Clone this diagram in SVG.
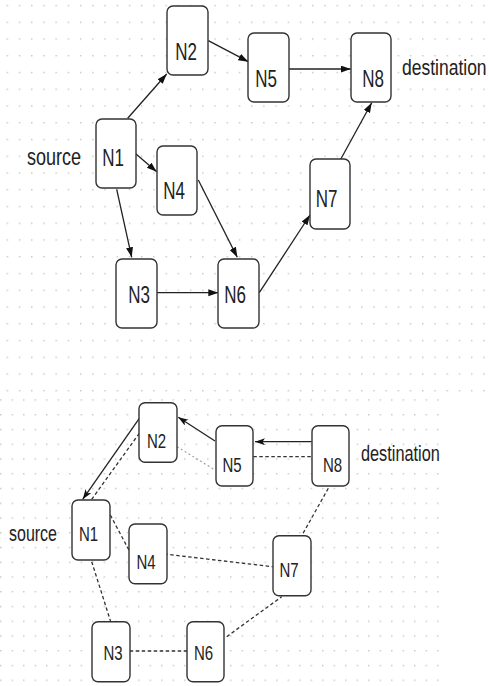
<svg xmlns="http://www.w3.org/2000/svg" width="489" height="686" viewBox="0 0 489 686">
<defs>
<pattern id="gridTop" patternUnits="userSpaceOnUse" x="6.6" y="4.8" width="12.22" height="16.75">
<rect x="0" y="0" width="1.4" height="1.4" fill="#c4c4c4"/>
</pattern>
<pattern id="gridBot" patternUnits="userSpaceOnUse" x="0.1" y="399.3" width="11.5" height="14.75">
<rect x="0" y="0" width="1.4" height="1.4" fill="#c4c4c4"/>
</pattern>
<marker id="arrTop" markerUnits="userSpaceOnUse" markerWidth="11" markerHeight="8" refX="10" refY="3.5" orient="auto">
<path d="M0,0 L10,3.5 L0,7 z" fill="#111"/>
</marker>
<marker id="arrBot" markerUnits="userSpaceOnUse" markerWidth="11" markerHeight="8" refX="10" refY="3.5" orient="auto">
<path d="M0,0 L10,3.5 L0,7 L2.5,3.5 z" fill="#111"/>
</marker>
</defs>
<style>
.node rect{fill:#fff;stroke:#333;stroke-width:1.4}
.lbl{font-family:"Liberation Sans",Arial,sans-serif;fill:#222;text-anchor:middle}
.side{font-family:"Liberation Sans",Arial,sans-serif;fill:#222}
.solid{stroke:#222;stroke-width:1.3;fill:none}
.dash{stroke:#333;stroke-width:1.3;stroke-dasharray:3.5 2.5;fill:none}
.dot{stroke:#999;stroke-width:1.1;stroke-dasharray:2 2.5;fill:none}
</style>
<rect x="0" y="0" width="489" height="686" fill="#fff"/>
<rect x="0" y="0" width="489" height="394" fill="url(#gridTop)"/>
<rect x="0" y="398" width="439" height="286" fill="url(#gridBot)"/>

<!-- top diagram connectors -->
<g id="connectors-top">
<line class="solid" x1="127.7" y1="118.3" x2="166.7" y2="74" marker-end="url(#arrTop)"/>
<line class="solid" x1="208.3" y1="40.7" x2="248.3" y2="61.7" marker-end="url(#arrTop)"/>
<line class="solid" x1="288.7" y1="69" x2="350.7" y2="69" marker-end="url(#arrTop)"/>
<line class="solid" x1="136" y1="154" x2="156.7" y2="171.7" marker-end="url(#arrTop)"/>
<line class="solid" x1="116.7" y1="189.3" x2="131.7" y2="257.3" marker-end="url(#arrTop)"/>
<line class="solid" x1="198.3" y1="180" x2="237.3" y2="257.3" marker-end="url(#arrTop)"/>
<line class="solid" x1="157" y1="292.7" x2="218.3" y2="292.7" marker-end="url(#arrTop)"/>
<line class="solid" x1="259.3" y1="292.7" x2="310" y2="215" marker-end="url(#arrTop)"/>
<line class="solid" x1="340.7" y1="159.3" x2="371.7" y2="102.7" marker-end="url(#arrTop)"/>
</g>

<!-- top diagram nodes -->
<g id="t-N2" class="node"><rect x="167" y="6" width="41" height="69" rx="6"/><text class="lbl" font-size="17" transform="translate(186,60) scale(1,1.45)">N2</text></g>
<g id="t-N5" class="node"><rect x="248" y="33" width="41" height="69" rx="6"/><text class="lbl" font-size="17" transform="translate(266,86.7) scale(1,1.45)">N5</text></g>
<g id="t-N8" class="node"><rect x="351" y="33" width="40" height="69" rx="6"/><text class="lbl" font-size="17" transform="translate(373,86.7) scale(1,1.45)">N8</text></g>
<g id="t-N1" class="node"><rect x="96" y="119" width="40" height="69" rx="6"/><text class="lbl" font-size="17" transform="translate(113,166) scale(1,1.45)">N1</text></g>
<g id="t-N4" class="node"><rect x="157" y="146" width="40" height="69" rx="6"/><text class="lbl" font-size="17" transform="translate(174,199) scale(1,1.45)">N4</text></g>
<g id="t-N7" class="node"><rect x="310" y="159" width="40" height="70" rx="6"/><text class="lbl" font-size="17" transform="translate(326.5,207) scale(1,1.45)">N7</text></g>
<g id="t-N3" class="node"><rect x="116" y="259" width="41" height="69" rx="6"/><text class="lbl" font-size="17" transform="translate(139,303) scale(1,1.45)">N3</text></g>
<g id="t-N6" class="node"><rect x="218" y="259" width="41" height="69" rx="6"/><text class="lbl" font-size="17" transform="translate(235,303) scale(1,1.45)">N6</text></g>
<g id="t-source"><text class="side" font-size="18" transform="translate(27,165) scale(1,1.35)">source</text></g>
<g id="t-destination"><text class="side" font-size="17.5" transform="translate(402,75) scale(1,1.3)">destination</text></g>

<!-- bottom diagram connectors -->
<g id="connectors-bottom">
<line class="dot" x1="177" y1="446.7" x2="215" y2="470"/>
<line class="dash" x1="139.3" y1="433.3" x2="91.7" y2="499.3"/>
<line class="solid" x1="139.3" y1="418.3" x2="82.7" y2="499.3" marker-end="url(#arrBot)"/>
<line class="solid" x1="215" y1="441" x2="178.3" y2="417.3" marker-end="url(#arrBot)"/>
<line class="solid" x1="311.7" y1="441.7" x2="255" y2="441.7" marker-end="url(#arrBot)"/>
<line class="dash" x1="253.3" y1="456.7" x2="311.7" y2="456.7"/>
<line class="dash" x1="110.3" y1="515" x2="129.3" y2="550.7"/>
<line class="dash" x1="164.3" y1="554" x2="272.7" y2="566.7"/>
<line class="dash" x1="328.3" y1="488.3" x2="301.7" y2="535.7"/>
<line class="dash" x1="91.7" y1="561.7" x2="110.7" y2="621.7"/>
<line class="dash" x1="129.7" y1="651" x2="193.3" y2="651"/>
<line class="dash" x1="226.7" y1="636.7" x2="281.7" y2="596.7"/>
</g>

<!-- bottom diagram nodes -->
<g id="b-N2" class="node"><rect x="139" y="402.7" width="38" height="59.6" rx="6"/><text class="lbl" font-size="15" transform="translate(156.5,448.3) scale(1,1.4)">N2</text></g>
<g id="b-N5" class="node"><rect x="216" y="425.7" width="37" height="60.3" rx="6"/><text class="lbl" font-size="15" transform="translate(232,471.7) scale(1,1.4)">N5</text></g>
<g id="b-N8" class="node"><rect x="312" y="425.7" width="37" height="60.3" rx="6"/><text class="lbl" font-size="15" transform="translate(332.5,471.7) scale(1,1.4)">N8</text></g>
<g id="b-N1" class="node"><rect x="72" y="500" width="38" height="60" rx="6"/><text class="lbl" font-size="15" transform="translate(88.5,541) scale(1,1.4)">N1</text></g>
<g id="b-N4" class="node"><rect x="129" y="524" width="38" height="59.7" rx="6"/><text class="lbl" font-size="15" transform="translate(146,569.3) scale(1,1.4)">N4</text></g>
<g id="b-N7" class="node"><rect x="273" y="535.7" width="38" height="60" rx="6"/><text class="lbl" font-size="15" transform="translate(289,576.7) scale(1,1.4)">N7</text></g>
<g id="b-N3" class="node"><rect x="92" y="621.7" width="38" height="60" rx="6"/><text class="lbl" font-size="15" transform="translate(113,660) scale(1,1.4)">N3</text></g>
<g id="b-N6" class="node"><rect x="187" y="621.7" width="37" height="60" rx="6"/><text class="lbl" font-size="15" transform="translate(203.5,660) scale(1,1.4)">N6</text></g>
<g id="b-source"><text class="side" font-size="16" transform="translate(9,540.7) scale(1,1.35)">source</text></g>
<g id="b-destination"><text class="side" font-size="16.3" transform="translate(361,461) scale(1,1.3)">destination</text></g>
</svg>
